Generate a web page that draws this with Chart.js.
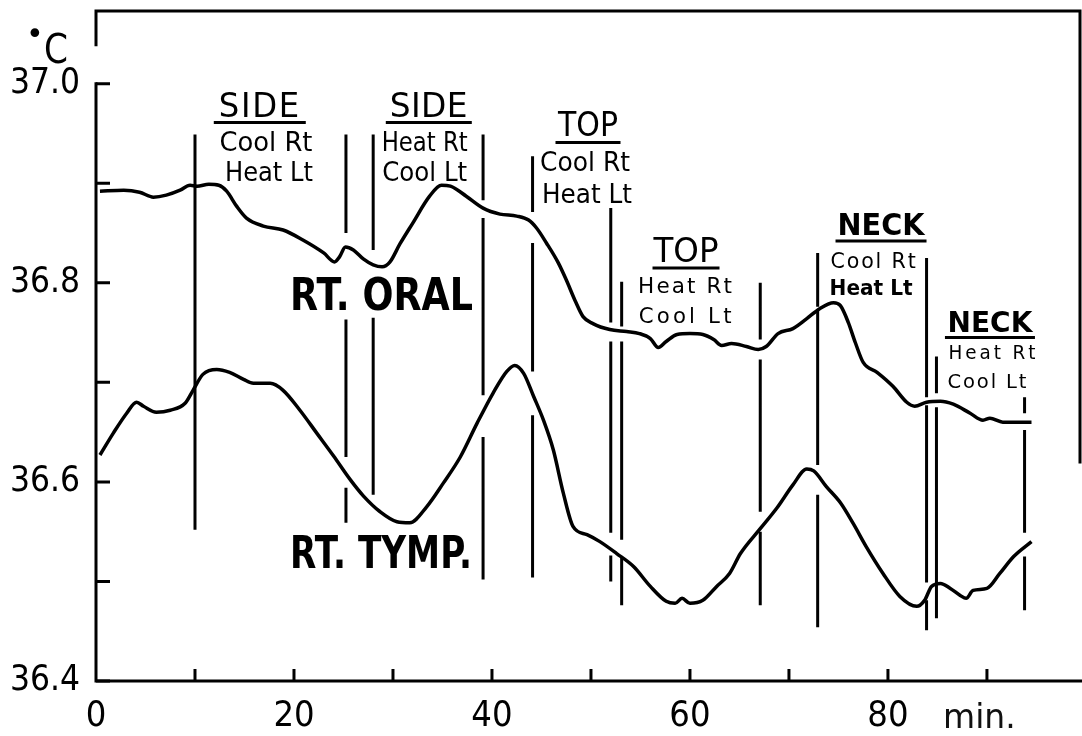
<!DOCTYPE html>
<html>
<head>
<meta charset="utf-8">
<title>Rt. oral and tympanic temperature</title>
<script src="https://cdn.jsdelivr.net/npm/chart.js@4.4.0/dist/chart.umd.min.js"></script>
<style>
  html, body { margin: 0; padding: 0; background: #fff; }
</style>
</head>
<body>
<canvas id="tempCanvas" width="1082" height="736"></canvas>
<script>
// temperature traces, minutes vs degrees C
var oralMin = [0.4, 2.8, 4.4, 5.8, 7.1, 8.5, 9.5, 10.2, 11.4, 12.4, 13.2, 14.2, 15.2, 16.9, 18.9, 20.9,
  23.0, 24.1, 24.6, 25.2, 26.0, 27.0, 28.0, 28.9, 29.7, 30.7, 32.0, 33.7, 34.9, 35.8, 37.4, 39.1,
  40.8, 42.5, 43.7, 44.5, 45.5, 46.7, 47.5, 48.4, 49.2, 50.2, 51.9, 53.6, 54.9, 56.0, 56.8, 57.6,
  58.7, 60.0, 61.3, 62.4, 63.2, 64.2, 65.7, 66.9, 67.7, 68.9, 70.4, 71.8, 73.1, 74.5, 75.2, 76.0,
  76.7, 77.5, 78.9, 80.5, 81.9, 82.7, 83.9, 85.3, 86.6, 88.3, 89.6, 90.3, 91.6, 94.5];
var oralTemp = [36.892, 36.893, 36.891, 36.886, 36.888, 36.893, 36.898, 36.897, 36.899, 36.898, 36.892,
  36.877, 36.865, 36.857, 36.853, 36.843, 36.830, 36.821, 36.826, 36.836, 36.833, 36.824, 36.818,
  36.816, 36.821, 36.839, 36.860, 36.887, 36.898, 36.897, 36.887, 36.875, 36.869, 36.867, 36.863,
  36.855, 36.840, 36.820, 36.803, 36.782, 36.766, 36.759, 36.753, 36.751, 36.749, 36.744, 36.735,
  36.741, 36.748, 36.749, 36.748, 36.743, 36.737, 36.739, 36.736, 36.733, 36.736, 36.749, 36.754,
  36.764, 36.774, 36.780, 36.777, 36.760, 36.740, 36.720, 36.710, 36.696, 36.680, 36.676, 36.680,
  36.681, 36.678, 36.669, 36.662, 36.664, 36.660, 36.660];

var tympMin = [0.4, 1.75, 3.1, 4.1, 4.8, 6.1, 7.5, 9.0, 9.8, 10.8, 12.2, 13.5, 14.9, 15.9, 17.6, 18.9,
  20.6, 22.3, 24.0, 25.7, 27.0, 28.7, 30.4, 31.7, 33.4, 35.1, 36.8, 38.5, 40.1, 41.5, 42.3, 43.2,
  44.2, 45.2, 46.2, 47.2, 48.2, 49.6, 50.9, 52.6, 54.3, 56.0, 57.6, 58.5, 59.2, 60.0, 61.3, 62.7,
  64.0, 65.1, 67.1, 68.8, 70.4, 71.8, 72.5, 73.8, 75.2, 76.5, 77.8, 79.5, 81.2, 82.9, 83.7, 84.4,
  85.3, 86.3, 87.3, 87.9, 88.6, 90.0, 91.3, 92.7, 94.5];
var tympTemp = [36.627, 36.649, 36.669, 36.680, 36.676, 36.670, 36.672, 36.679, 36.692, 36.708, 36.713,
  36.710, 36.703, 36.699, 36.699, 36.692, 36.672, 36.649, 36.626, 36.602, 36.586, 36.570, 36.560,
  36.559, 36.575, 36.599, 36.625, 36.659, 36.689, 36.711, 36.717, 36.709, 36.686, 36.662, 36.632,
  36.589, 36.555, 36.547, 36.540, 36.528, 36.515, 36.495, 36.480, 36.478, 36.483, 36.478, 36.481,
  36.495, 36.508, 36.528, 36.553, 36.574, 36.597, 36.613, 36.611, 36.595, 36.579, 36.558, 36.535,
  36.508, 36.485, 36.475, 36.481, 36.495, 36.498, 36.493, 36.486, 36.483, 36.491, 36.493, 36.508,
  36.525, 36.540];

// event marks: minute of each mark and the [top, bottom] pieces it is drawn in
var markerMin = [10.0, 25.25, 28.0, 39.1, 44.1, 52.0, 53.1, 67.1, 72.9, 83.9, 84.9, 93.8];
var markerSpans = [
  [[36.949, 36.552]],
  [[36.949, 36.850], [36.763, 36.625], [36.594, 36.559]],
  [[36.949, 36.833], [36.765, 36.587]],
  [[36.949, 36.883], [36.865, 36.687], [36.645, 36.502]],
  [[36.927, 36.871], [36.840, 36.711], [36.667, 36.504]],
  [[36.875, 36.760], [36.741, 36.549], [36.526, 36.500]],
  [[36.801, 36.756], [36.741, 36.542], [36.524, 36.476]],
  [[36.800, 36.743], [36.723, 36.570], [36.550, 36.476]],
  [[36.830, 36.776], [36.773, 36.617], [36.587, 36.454]],
  [[36.825, 36.685], [36.677, 36.499], [36.481, 36.451]],
  [[36.726, 36.689], [36.675, 36.463]],
  [[36.685, 36.669], [36.652, 36.549], [36.525, 36.471]]
];

var xTicks = [0, 10, 20, 30, 40, 50, 60, 70, 80, 90];
var xTickLabels = ['0', '', '20', '', '40', '', '60', '', '80', ''];
var yTicks = [36.4, 36.5, 36.6, 36.7, 36.8, 36.9, 37.0];
var yTickLabels = ['36.4', '', '36.6', '', '36.8', '', '37.0'];

var FONT = "'DejaVu Sans', sans-serif";
var TICK_FONT = "'DejaVu Sans Condensed', 'Liberation Sans Narrow', 'DejaVu Sans', sans-serif";

// text written on the plot, placed in minutes / degrees
var notes = [
  { text: 'SIDE', x: 16.46, y: 36.967, size: 33, w: 82, rule: 92 },
  { text: 'Cool Rt', x: 17.17, y: 36.932, size: 27, w: 93 },
  { text: 'Heat Lt', x: 17.47, y: 36.902, size: 27, w: 88 },
  { text: 'SIDE', x: 33.6, y: 36.967, size: 33, w: 78, rule: 86 },
  { text: 'Heat Rt', x: 33.2, y: 36.932, size: 27, w: 86 },
  { text: 'Cool Lt', x: 33.2, y: 36.902, size: 27, w: 85 },
  { text: 'TOP', x: 49.7, y: 36.947, size: 33, w: 60, rule: 65 },
  { text: 'Cool Rt', x: 49.4, y: 36.912, size: 26, w: 90 },
  { text: 'Heat Lt', x: 49.6, y: 36.880, size: 26, w: 90 },
  { text: 'TOP', x: 59.6, y: 36.821, size: 33, w: 65, rule: 67 },
  { text: 'Heat Rt', x: 59.5, y: 36.790, size: 22, w: 96 },
  { text: 'Cool Lt', x: 59.5, y: 36.760, size: 22, w: 96 },
  { text: 'NECK', x: 79.3, y: 36.848, size: 30, w: 87, rule: 91, bold: true },
  { text: 'Cool Rt', x: 78.5, y: 36.815, size: 21, w: 87 },
  { text: 'Heat Lt', x: 78.3, y: 36.788, size: 21, w: 83, bold: true },
  { text: 'NECK', x: 90.3, y: 36.751, size: 28, w: 85, rule: 90, bold: true },
  { text: 'Heat Rt', x: 90.5, y: 36.723, size: 19, w: 90 },
  { text: 'Cool Lt', x: 90.0, y: 36.694, size: 20, w: 81 },
  { text: 'RT. ORAL', x: 19.6, y: 36.773, size: 45, w: 183, bold: true, align: 'left' },
  { text: 'RT. TYMP.', x: 19.6, y: 36.514, size: 45, w: 182, bold: true, align: 'left' }
];

function toPoints(xs, ys) {
  return xs.map(function (m, i) { return { x: m, y: ys[i] }; });
}

// one dataset for all the marks, broken by null gaps
function markerPoints() {
  var pts = [];
  markerMin.forEach(function (m, i) {
    markerSpans[i].forEach(function (s) {
      pts.push({ x: m, y: s[0] }, { x: m, y: s[1] }, { x: m, y: null });
    });
  });
  return pts;
}

function drawNote(ctx, xs, ys, n) {
  ctx.font = (n.bold ? 'bold ' : '') + n.size + 'px ' + FONT;
  ctx.textAlign = n.align || 'center';
  ctx.textBaseline = 'alphabetic';
  var px = xs.getPixelForValue(n.x), py = ys.getPixelForValue(n.y);
  var natural = ctx.measureText(n.text).width;
  ctx.letterSpacing = '0px';
  if (natural < n.w && n.text.length > 1) {
    var sp = (n.w - natural) / (n.text.length - 1);
    ctx.letterSpacing = sp.toFixed(2) + 'px';
    if (ctx.textAlign === 'center') px += sp / 2;
  }
  ctx.fillText(n.text, px, py, n.w);
  ctx.letterSpacing = '0px';
  if (n.rule) {
    ctx.lineWidth = 3;
    ctx.beginPath();
    ctx.moveTo(px - n.rule / 2, py + 6);
    ctx.lineTo(px + n.rule / 2, py + 6);
    ctx.stroke();
  }
}

var frame = {
  id: 'frame',
  afterDatasetsDraw: function (chart) {
    var ctx = chart.ctx, a = chart.chartArea;
    var xs = chart.scales.x, ys = chart.scales.y;
    var top37 = ys.getPixelForValue(37.0);
    ctx.save();
    ctx.strokeStyle = '#000';
    ctx.fillStyle = '#000';
    ctx.lineWidth = 3;
    ctx.lineCap = 'square';

    ctx.beginPath();
    // left axis, open beside the unit
    ctx.moveTo(a.left, a.top);
    ctx.lineTo(a.left, top37 - 39);
    ctx.moveTo(a.left, top37);
    ctx.lineTo(a.left, a.bottom);
    // bottom axis
    ctx.lineTo(chart.width, a.bottom);
    // top edge and upper right edge
    ctx.moveTo(a.left, a.top);
    ctx.lineTo(a.right, a.top);
    ctx.lineTo(a.right, ys.getPixelForValue(36.62));
    ctx.stroke();

    // inward tick marks
    ctx.lineCap = 'butt';
    ctx.beginPath();
    yTicks.forEach(function (v) {
      var y = ys.getPixelForValue(v);
      ctx.moveTo(a.left, y);
      ctx.lineTo(a.left + 14, y);
    });
    xTicks.forEach(function (v) {
      if (v === 0) return;
      var x = xs.getPixelForValue(v);
      ctx.moveTo(x, a.bottom);
      ctx.lineTo(x, a.bottom - 12);
    });
    ctx.stroke();

    notes.forEach(function (n) { drawNote(ctx, xs, ys, n); });

    // unit labels
    ctx.textAlign = 'left';
    ctx.textBaseline = 'alphabetic';
    ctx.font = '30px ' + FONT;
    ctx.fillText('\u2022', a.left - 70, top37 - 40);
    ctx.font = '41px ' + FONT;
    ctx.fillText('C', a.left - 52, top37 - 21, 24);
    ctx.font = '33px ' + FONT;
    ctx.fillStyle = '#111';
    ctx.fillText('min.', xs.getPixelForValue(85.56), a.bottom + 47, 78);
    ctx.restore();
  }
};

// the scales keep exactly the room given to them, no overhang padding
function fitX(s) {
  s.height = 55;
  s.paddingLeft = 0;
  s.paddingRight = 0;
}
function fitY(s) {
  s.width = 96;
  s.paddingTop = 0;
  s.paddingBottom = 0;
}

var chart = new Chart(document.getElementById('tempCanvas'), {
  type: 'line',
  data: {
    datasets: [
      {
        label: 'Rt. oral',
        data: toPoints(oralMin, oralTemp),
        borderColor: '#000',
        borderWidth: 3.5,
        cubicInterpolationMode: 'monotone',
        pointRadius: 0
      },
      {
        label: 'Rt. tymp.',
        data: toPoints(tympMin, tympTemp),
        borderColor: '#000',
        borderWidth: 3.5,
        cubicInterpolationMode: 'monotone',
        pointRadius: 0
      },
      {
        label: 'marks',
        data: markerPoints(),
        borderColor: '#000',
        borderWidth: 3,
        tension: 0,
        pointRadius: 0,
        spanGaps: false
      }
    ]
  },
  options: {
    responsive: false,
    devicePixelRatio: 1,
    animation: false,
    layout: { padding: { top: 11, right: 2, bottom: 0, left: 0 } },
    plugins: { legend: { display: false }, tooltip: { enabled: false } },
    scales: {
      x: {
        type: 'linear',
        min: 0,
        max: 99.4,
        afterBuildTicks: function (s) { s.ticks = xTicks.map(function (v) { return { value: v }; }); },
        afterFit: fitX,
        grid: { display: false, drawTicks: false },
        border: { display: false },
        ticks: {
          autoSkip: false,
          maxRotation: 0,
          padding: 14,
          color: '#000',
          font: { family: TICK_FONT, size: 36 },
          callback: function (v, i) { return xTickLabels[i]; }
        }
      },
      y: {
        type: 'linear',
        min: 36.4,
        max: 37.073,
        afterBuildTicks: function (s) { s.ticks = yTicks.map(function (v) { return { value: v }; }); },
        afterFit: fitY,
        grid: { display: false, drawTicks: false },
        border: { display: false },
        ticks: {
          autoSkip: false,
          padding: 16,
          color: '#000',
          font: { family: TICK_FONT, size: 35 },
          callback: function (v, i) { return yTickLabels[i]; }
        }
      }
    }
  },
  plugins: [frame]
});
</script>
</body>
</html>
